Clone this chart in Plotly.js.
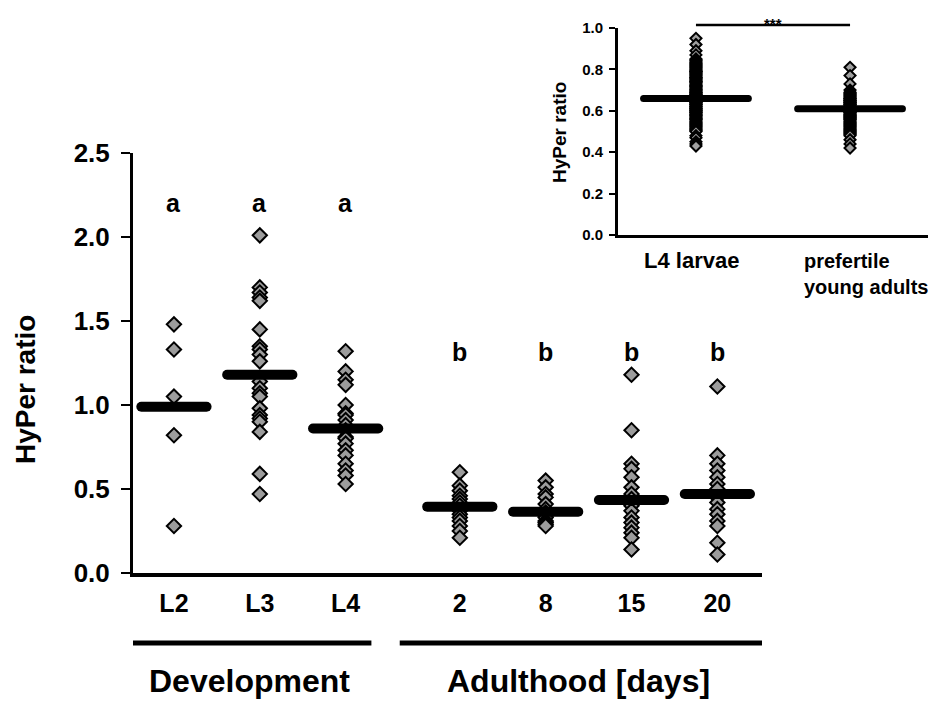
<!DOCTYPE html>
<html>
<head>
<meta charset="utf-8">
<script src="https://cdn.plot.ly/plotly-3.0.1.min.js"></script>
<style>
html,body{margin:0;padding:0;background:#fff;}
#chart{width:936px;height:702px;}
.js-line{stroke-linecap:round;}
</style>
</head>
<body>
<div id="chart"></div>
<script>
// ---------- data ----------
const categories = ["L2", "L3", "L4", "2", "8", "15", "20"];
const groups = ["Development", "Development", "Development", "Adulthood", "Adulthood", "Adulthood", "Adulthood"];
const groupLabels = ["Development", "Adulthood [days]"];
const letters = ["a", "a", "a", "b", "b", "b", "b"];

const valuesL2 = [1.48, 1.33, 1.05, 0.82, 0.28];
const valuesL3 = [2.01, 1.70, 1.67, 1.64, 1.62, 1.45, 1.35, 1.33, 1.30, 1.26, 1.14, 1.10, 1.07, 1.05, 0.98, 0.94, 0.92, 0.90, 0.84, 0.59, 0.47];
const valuesL4 = [1.32, 1.20, 1.15, 1.12, 1.00, 0.95, 0.94, 0.91, 0.88, 0.85, 0.81, 0.80, 0.77, 0.73, 0.70, 0.65, 0.61, 0.58, 0.53];
const valuesD2 = [0.60, 0.52, 0.49, 0.46, 0.44, 0.42, 0.40, 0.37, 0.35, 0.33, 0.31, 0.28, 0.25, 0.21];
const valuesD8 = [0.55, 0.51, 0.47, 0.45, 0.41, 0.38, 0.36, 0.34, 0.33, 0.31, 0.30, 0.29, 0.28];
const valuesD15 = [1.18, 0.85, 0.65, 0.62, 0.57, 0.51, 0.47, 0.44, 0.40, 0.37, 0.33, 0.30, 0.27, 0.24, 0.21, 0.14];
const valuesD20 = [1.11, 0.70, 0.65, 0.61, 0.57, 0.53, 0.50, 0.45, 0.42, 0.38, 0.35, 0.31, 0.28, 0.18, 0.11];
const means = [0.99, 1.18, 0.86, 0.395, 0.365, 0.435, 0.47];

const insetCategories = ["L4 larvae", "prefertile<br>young adults"];
const insetL4 = [0.95, 0.92, 0.89, 0.87, 0.85, 0.845, 0.84, 0.835, 0.83, 0.825, 0.82, 0.815, 0.81, 0.805, 0.80, 0.795, 0.79, 0.79, 0.785, 0.78, 0.775, 0.77, 0.765, 0.76, 0.76, 0.755, 0.75, 0.745, 0.74, 0.74, 0.735, 0.73, 0.725, 0.72, 0.72, 0.715, 0.71, 0.705, 0.70, 0.70, 0.695, 0.69, 0.69, 0.685, 0.68, 0.68, 0.675, 0.67, 0.67, 0.665, 0.66, 0.66, 0.655, 0.65, 0.65, 0.645, 0.64, 0.64, 0.635, 0.63, 0.63, 0.625, 0.62, 0.62, 0.615, 0.61, 0.61, 0.605, 0.60, 0.60, 0.595, 0.59, 0.59, 0.585, 0.58, 0.58, 0.575, 0.57, 0.565, 0.56, 0.56, 0.555, 0.55, 0.545, 0.54, 0.535, 0.53, 0.525, 0.52, 0.515, 0.51, 0.505, 0.50, 0.48, 0.47, 0.45, 0.44, 0.43];
const insetYA = [0.81, 0.77, 0.73, 0.70, 0.69, 0.685, 0.68, 0.675, 0.67, 0.665, 0.66, 0.66, 0.655, 0.65, 0.65, 0.645, 0.64, 0.64, 0.635, 0.63, 0.63, 0.625, 0.62, 0.62, 0.62, 0.615, 0.61, 0.61, 0.61, 0.605, 0.60, 0.60, 0.60, 0.595, 0.59, 0.59, 0.585, 0.58, 0.58, 0.575, 0.57, 0.57, 0.565, 0.56, 0.56, 0.555, 0.55, 0.545, 0.54, 0.535, 0.53, 0.525, 0.52, 0.515, 0.51, 0.505, 0.50, 0.495, 0.49, 0.485, 0.48, 0.46, 0.44, 0.42];
const insetMeans = [0.66, 0.61];
const insetSignificance = "***";

const yTitle = "HyPer ratio";
const yTickVals = [0, 0.5, 1.0, 1.5, 2.0, 2.5];
const insetYTickVals = [0, 0.2, 0.4, 0.6, 0.8, 1.0];

// ---------- build ----------
const mainValues = [valuesL2, valuesL3, valuesL4, valuesD2, valuesD8, valuesD15, valuesD20];
const GAP = 0.33;
const pos = categories.map((c, i) => i + (groups[i] === "Adulthood" ? GAP : 0));

const FONT = "Liberation Sans, Arial, Helvetica, sans-serif";
const markerFill = "#9c9c9c";

const traces = [];
mainValues.forEach((vals, i) => {
  traces.push({
    type: "scatter", mode: "markers", xaxis: "x", yaxis: "y",
    x: vals.map(() => pos[i]), y: vals,
    marker: {symbol: "diamond", size: 11, color: markerFill, line: {color: "#000", width: 2}},
    cliponaxis: false, hoverinfo: "skip", showlegend: false
  });
});
// mean bars
const mx = [], my = [];
means.forEach((m, i) => { mx.push(pos[i] - 0.38, pos[i] + 0.38, null); my.push(m, m, null); });
traces.push({type: "scatter", mode: "lines", xaxis: "x", yaxis: "y", x: mx, y: my,
  line: {color: "#000", width: 10}, connectgaps: false, cliponaxis: false, hoverinfo: "skip", showlegend: false});

// inset
[insetL4, insetYA].forEach((vals, i) => {
  traces.push({
    type: "scatter", mode: "markers", xaxis: "x2", yaxis: "y2",
    x: vals.map(() => i), y: vals,
    marker: {symbol: "diamond", size: 8.5, color: "#a0a0a0", line: {color: "#000", width: 2}},
    cliponaxis: false, hoverinfo: "skip", showlegend: false
  });
});
const ix = [], iy = [];
insetMeans.forEach((m, i) => { ix.push(i - 0.34, i + 0.34, null); iy.push(m, m, null); });
traces.push({type: "scatter", mode: "lines", xaxis: "x2", yaxis: "y2", x: ix, y: iy,
  line: {color: "#000", width: 7}, connectgaps: false, cliponaxis: false, hoverinfo: "skip", showlegend: false});

const W = 936, H = 702;
const px = v => v / W;
const py = v => (H - v) / H;

const annotations = [];
letters.forEach((l, i) => {
  annotations.push({xref: "x", yref: "y", x: pos[i], y: groups[i] === "Adulthood" ? 1.315 : 2.2,
    text: l, showarrow: false, font: {family: FONT, size: 25, color: "#000", weight: "bold"}});
});
// group labels
const devIdx = pos.filter((p, i) => groups[i] === "Development");
const adIdx = pos.filter((p, i) => groups[i] === "Adulthood");
const center = a => (a[0] + a[a.length - 1]) / 2;
annotations.push({xref: "x", yref: "paper", x: center(devIdx) - 0.12, y: py(681), yanchor: "middle", borderpad: 0,
  text: groupLabels[0], showarrow: false, font: {family: FONT, size: 32, color: "#000", weight: "bold"}});
annotations.push({xref: "x", yref: "paper", x: center(adIdx) - 0.12, y: py(681), yanchor: "middle", borderpad: 0,
  text: groupLabels[1], showarrow: false, font: {family: FONT, size: 32, color: "#000", weight: "bold"}});
// y titles
annotations.push({xref: "paper", yref: "paper", x: px(25), y: py(390), xanchor: "center", yanchor: "middle",
  text: yTitle, textangle: -90, showarrow: false, font: {family: FONT, size: 28, color: "#000", weight: "bold"}});
annotations.push({xref: "paper", yref: "paper", x: px(559), y: py(133), xanchor: "center", yanchor: "middle",
  text: yTitle, textangle: -90, showarrow: false, font: {family: FONT, size: 19, color: "#000", weight: "bold"}});
// inset x labels
annotations.push({xref: "x2", yref: "paper", x: -0.03, y: py(260), xanchor: "center", yanchor: "middle",
  text: insetCategories[0], showarrow: false, font: {family: FONT, size: 22, color: "#000", weight: "bold"}});
annotations.push({xref: "x2", yref: "paper", x: 0.688, y: py(248), xanchor: "left", yanchor: "top", align: "left",
  text: insetCategories[1], showarrow: false, font: {family: FONT, size: 20, color: "#000", weight: "bold"}});
annotations.push({xref: "x2", yref: "paper", x: 0.5, y: py(13), text: insetSignificance, showarrow: false,
  font: {family: FONT, size: 15, color: "#000", weight: "bold"}});

const shapes = [
  {type: "line", xref: "x", yref: "paper", x0: -0.477, x1: 2.3, y0: py(643), y1: py(643), line: {color: "#000", width: 5}},
  {type: "line", xref: "x", yref: "paper", x0: 2.63, x1: 6.9, y0: py(643), y1: py(643), line: {color: "#000", width: 5}},
  {type: "line", xref: "x2", yref: "paper", x0: 0, x1: 1, y0: py(25), y1: py(25), line: {color: "#000", width: 2.5}}
];

const layout = {
  width: W, height: H,
  margin: {l: 0, r: 0, t: 0, b: 0},
  paper_bgcolor: "#fff", plot_bgcolor: "rgba(0,0,0,0)",
  showlegend: false,
  font: {family: FONT, color: "#000"},
  xaxis: {
    domain: [px(133), px(762)], range: [-0.477, 6.85], anchor: "y",
    showgrid: false, zeroline: false, showline: true, linecolor: "#000", linewidth: 3.5,
    ticks: "", tickvals: pos, ticktext: categories, ticklabelstandoff: 5,
    tickfont: {family: FONT, size: 25, color: "#000", weight: "bold"}
  },
  yaxis: {
    domain: [py(573), py(153)], range: [0, 2.5], anchor: "x",
    showgrid: false, zeroline: false, showline: true, linecolor: "#000", linewidth: 3,
    ticks: "outside", ticklen: 9, tickwidth: 2.5, tickcolor: "#000",
    tickvals: yTickVals, tickformat: ".1f", ticklabelstandoff: 6,
    tickfont: {family: FONT, size: 26, color: "#000", weight: "bold"}
  },
  xaxis2: {
    domain: [px(618), px(928)], range: [-0.506, 1.506], anchor: "y2",
    showgrid: false, zeroline: false, showline: true, linecolor: "#000", linewidth: 3,
    ticks: "", showticklabels: false
  },
  yaxis2: {
    domain: [py(235), py(28)], range: [0, 1.0], anchor: "x2",
    showgrid: false, zeroline: false, showline: true, linecolor: "#000", linewidth: 3,
    ticks: "outside", ticklen: 6, tickwidth: 2, tickcolor: "#000",
    tickvals: insetYTickVals, tickformat: ".1f", ticklabelstandoff: 3,
    tickfont: {family: FONT, size: 15, color: "#000", weight: "bold"}
  },
  annotations: annotations,
  shapes: shapes
};

Plotly.newPlot("chart", traces, layout, {staticPlot: true, displayModeBar: false});
</script>
</body>
</html>
